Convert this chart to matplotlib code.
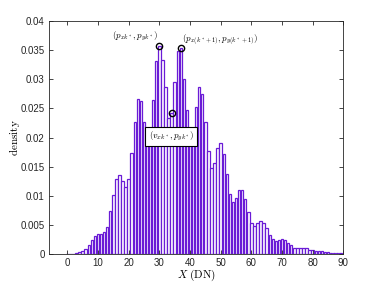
import numpy as np
import matplotlib
matplotlib.use("Agg")
import matplotlib.pyplot as plt

plt.rcParams['mathtext.fontset'] = 'cm'
plt.rcParams['font.family'] = ['Liberation Sans', 'DejaVu Sans']

# histogram of DN values, one bin per integer DN
dn = np.arange(0, 90)
density = [
    0, 0, 0, 0.0001, 0.0003, 0.0005, 0.0009, 0.0015, 0.0024, 0.0031,        # 0-9
    0.0035, 0.0035, 0.0037, 0.0047, 0.0073, 0.0102, 0.0129, 0.0135, 0.0126, 0.0115,  # 10-19
    0.0129, 0.0173, 0.0227, 0.0266, 0.0263, 0.0227, 0.0205, 0.0210, 0.0265, 0.0331,  # 20-29
    0.0357, 0.0333, 0.0287, 0.0233, 0.0242, 0.0296, 0.0348, 0.0354, 0.0300, 0.0247,  # 30-39
    0.0205, 0.0200, 0.0253, 0.0286, 0.0275, 0.0227, 0.0176, 0.0147, 0.0156, 0.0182,  # 40-49
    0.0191, 0.0172, 0.0137, 0.0103, 0.0090, 0.0096, 0.0109, 0.0109, 0.0094, 0.0072,  # 50-59
    0.0054, 0.0048, 0.0054, 0.0057, 0.0054, 0.0045, 0.0033, 0.0025, 0.0022, 0.0024,  # 60-69
    0.0026, 0.0024, 0.0019, 0.0015, 0.0011, 0.0010, 0.0010, 0.0010, 0.0010, 0.0007,  # 70-79
    0.0006, 0.0005, 0.0005, 0.0005, 0.0004, 0.0003, 0.0002, 0.0002, 0.0002, 0.0002,  # 80-89
]

# marked points
pk_x, pk_y = 30, 0.0357
pk1_x, pk1_y = 37, 0.0354
v_x, v_y = 34, 0.0242

yticks = [0, 0.005, 0.01, 0.015, 0.02, 0.025, 0.03, 0.035, 0.04]
ytick_labels = ['0', '0.005', '0.01', '0.015', '0.02', '0.025', '0.03', '0.035', '0.04']
xticks = np.arange(0, 91, 10)

fig = plt.figure(figsize=(3.79, 2.85), dpi=100)
ax = fig.add_axes([0.129, 0.109, 0.777, 0.817])

ax.bar(dn, density, width=0.8, color='white', edgecolor='#6a1bd6', linewidth=0.9)

ax.plot([pk_x, pk1_x, v_x], [pk_y, pk1_y, v_y], 'o', mfc='none', mec='black',
        ms=4.5, mew=1.0, zorder=5)

ax.text(29.6, 0.0373, r'$(p_{xk^*}, p_{yk^*})$', fontsize=6.5,
        ha='right', va='center')
ax.text(37.3, 0.0366, r'$(p_{x(k^*+1)}, p_{y(k^*+1)})$', fontsize=6.5,
        ha='left', va='center')
ax.text(33.9, 0.0202, r'$(v_{xk^*}, p_{yk^*})$', fontsize=6.5, ha='center', va='center',
        bbox=dict(boxstyle='square,pad=0.35', fc='white', ec='black', lw=0.8), zorder=6)

ax.set_xlim(-6, 90)
ax.set_ylim(0, 0.04)
ax.set_xticks(xticks)
ax.set_yticks(yticks)
ax.set_yticklabels(ytick_labels)
ax.tick_params(direction='in', top=True, right=True, length=3, width=0.6,
               labelsize=7, colors='#262626', pad=3)
for s in ax.spines.values():
    s.set_color('#262626')
    s.set_linewidth(0.6)

ax.set_xlabel(r'$X\ \mathrm{(DN)}$', fontsize=8, labelpad=0)
ax.set_ylabel(r'$\mathrm{density}$', fontsize=8, labelpad=-1)

fig.savefig('out.png', dpi=100)
